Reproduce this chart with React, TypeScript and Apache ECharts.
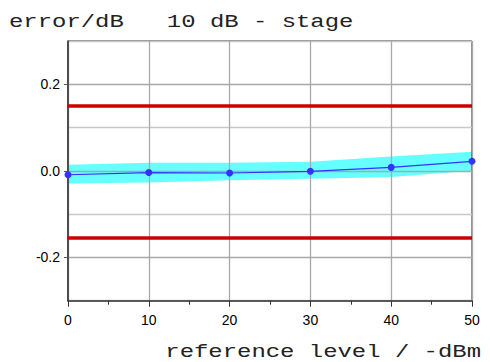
import React, { useEffect, useRef } from "react";
import * as echarts from "echarts";

const xValues = [0, 10, 20, 30, 40, 50];
const errorValues = [-0.009, -0.004, -0.005, -0.001, 0.008, 0.022];
const bandUpper = [0.014, 0.019, 0.019, 0.021, 0.033, 0.044];
const bandLower = [-0.029, -0.027, -0.022, -0.018, -0.014, 0.0];
const upperLimit = 0.15;
const lowerLimit = -0.155;
const titleText = "error/dB   10 dB - stage";
const xTitleText = "reference level / -dBm";

const W = 490;
const H = 362;
const G_LEFT = 68;
const G_RIGHT = 18;
const G_TOP = 41;
const G_BOTTOM = 61.3;
const Y_MIN = -0.3;
const Y_MAX = 0.3;

export default function App() {
  const ref = useRef<HTMLDivElement>(null);
  useEffect(() => {
    const chart = echarts.init(ref.current!, null, { renderer: "svg" });
    const gh = H - G_TOP - G_BOTTOM;
    const t2 = G_TOP + (gh * (Y_MAX - 0.2)) / (Y_MAX - Y_MIN);
    const b2 = G_BOTTOM + (gh * (-0.2 - Y_MIN)) / (Y_MAX - Y_MIN);
    const fmt = (v: number) => (Math.abs(v) < 1e-9 ? "0.0" : v.toFixed(1));
    const bandData = xValues.map((x, i) => [x, bandLower[i], bandUpper[i]]);
    chart.setOption({
      animation: false,
      backgroundColor: "#fff",
      grid: [
        { left: G_LEFT, right: G_RIGHT, top: G_TOP, bottom: G_BOTTOM, show: true, borderColor: "#222", borderWidth: 1, backgroundColor: "transparent" },
        { left: G_LEFT, right: G_RIGHT, top: t2, bottom: b2 },
      ],
      xAxis: [
        {
          gridIndex: 0,
          type: "value",
          min: 0,
          max: 50,
          interval: 10,
          axisLine: { show: true, onZero: false, lineStyle: { color: "#333", width: 1.5 } },
          axisTick: { show: true, length: 6, inside: false, lineStyle: { color: "#333" } },
          minorTick: { show: true, splitNumber: 2, length: 4, lineStyle: { color: "#333" } },
          axisLabel: { fontFamily: "Liberation Sans", fontSize: 14, color: "#000", margin: 12 },
          splitLine: { show: true, lineStyle: { color: "#a8a8a8", width: 1.3 } },
        },
        { gridIndex: 1, type: "value", min: 0, max: 50, show: false },
      ],
      yAxis: [
        {
          gridIndex: 0,
          type: "value",
          min: Y_MIN,
          max: Y_MAX,
          interval: 0.1,
          axisLine: { show: true, onZero: false, lineStyle: { color: "#333", width: 1.5 } },
          axisTick: { show: false },
          axisLabel: { show: false },
          splitLine: { show: true, lineStyle: { color: ["#c8c8c8", "#a8a8a8"], width: 1.3 } },
        },
        {
          gridIndex: 1,
          type: "value",
          min: -0.2,
          max: 0.2,
          interval: 0.2,
          axisLine: { show: false },
          axisTick: { show: true, length: 4, lineStyle: { color: "#555" } },
          axisLabel: { formatter: fmt, fontFamily: "Liberation Sans", fontSize: 14, color: "#000", margin: 8 },
          splitLine: { show: false },
        },
      ],
      series: [
        {
          type: "custom",
          xAxisIndex: 0,
          yAxisIndex: 0,
          data: bandData,
          encode: { x: 0, y: [1, 2] },
          z: -1,
          silent: true,
          renderItem: (params: any, api: any) => {
            if (params.dataIndex !== 0) return null;
            const upper = bandData.map((d) => api.coord([d[0], d[2]]));
            const lower = bandData.map((d) => api.coord([d[0], d[1]])).reverse();
            return {
              type: "polygon",
              shape: { points: upper.concat(lower) },
              style: { fill: "#66ffff", stroke: "none" },
            };
          },
        },
        {
          type: "line",
          data: [[xValues[0], upperLimit], [xValues[xValues.length - 1], upperLimit]],
          symbol: "none",
          lineStyle: { color: "#cc0000", width: 3.5 },
        },
        {
          type: "line",
          data: [[xValues[0], lowerLimit], [xValues[xValues.length - 1], lowerLimit]],
          symbol: "none",
          lineStyle: { color: "#cc0000", width: 3.5 },
        },
        {
          type: "line",
          data: xValues.map((x, i) => [x, errorValues[i]]),
          symbol: "circle",
          symbolSize: 7,
          itemStyle: { color: "#3333ff" },
          lineStyle: { color: "#3333ff", width: 1.2 },
          z: 5,
        },
      ],
      graphic: [
        {
          type: "text",
          x: 9,
          y: 21.5,
          scaleX: 1.33,
          style: { text: titleText, fontFamily: "Liberation Mono", fontSize: 18, fill: "#222", align: "left", verticalAlign: "middle" },
        },
        {
          type: "text",
          x: 481,
          y: 352,
          scaleX: 1.33,
          style: { text: xTitleText, fontFamily: "Liberation Mono", fontSize: 18, fill: "#222", align: "right", verticalAlign: "middle" },
        },
      ],
    });
    return () => chart.dispose();
  }, []);
  return <div ref={ref} style={{ position: "fixed", left: 0, top: 0, width: W, height: H, background: "#fff" }} />;
}
